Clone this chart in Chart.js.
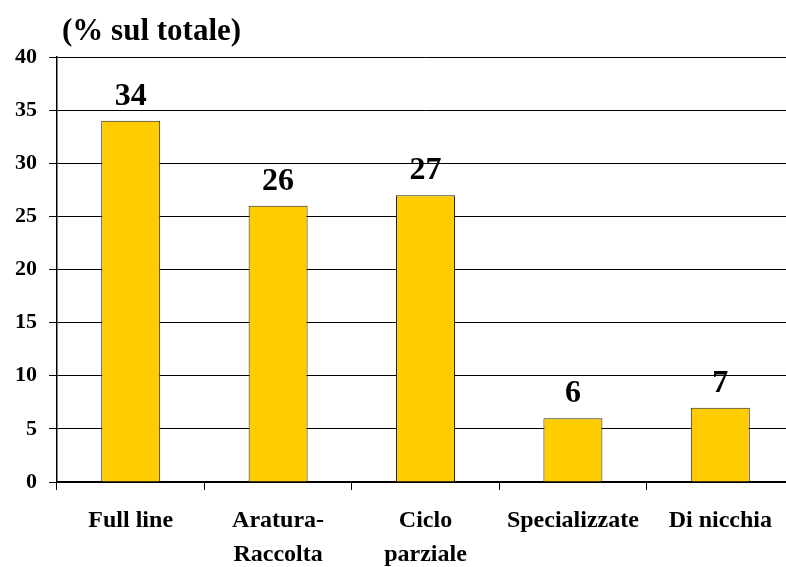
<!DOCTYPE html>
<html>
<head>
<meta charset="utf-8">
<script src="https://cdn.jsdelivr.net/npm/chart.js@4"></script>
<style>
  html, body { margin: 0; padding: 0; background: #fff; overflow: hidden; }
  #wrap { width: 794px; height: 567px; }
</style>
</head>
<body>
<div id="wrap"><canvas id="barChart"></canvas></div>
<script>
  const categories = [['Full line'], ['Aratura-', 'Raccolta'], ['Ciclo', 'parziale'], ['Specializzate'], ['Di nicchia']];
  const shares = [34, 26, 27, 6, 7];
  const yTicks = [0, 5, 10, 15, 20, 25, 30, 35, 40];

  const serif = "'Liberation Serif', 'Times New Roman', serif";

  // value above each bar + the unit caption in the corner
  const barLabels = {
    id: 'barLabels',
    afterDatasetsDraw(chart) {
      const ctx = chart.ctx;
      ctx.save();
      ctx.fillStyle = '#000';
      ctx.font = 'bold 32px ' + serif;
      ctx.textAlign = 'center';
      ctx.textBaseline = 'alphabetic';
      chart.getDatasetMeta(0).data.forEach((bar, i) => {
        ctx.fillText(shares[i], bar.x, bar.y - 16);
      });
      ctx.font = 'bold 31px ' + serif;
      ctx.textAlign = 'left';
      ctx.textBaseline = 'middle';
      ctx.fillText('(% sul totale)', 62, 32);
      ctx.restore();
    }
  };

  const ctx1 = document.getElementById('barChart');
  new Chart(ctx1, {
    type: 'bar',
    data: {
      labels: categories,
      datasets: [{
        data: shares,
        backgroundColor: '#ffcc00',
        borderColor: '#222',
        borderWidth: 1,
        categoryPercentage: 1,
        barPercentage: 0.4
      }]
    },
    options: {
      responsive: true,
      maintainAspectRatio: false,
      animation: false,
      layout: { padding: { top: 57, right: 0, left: 0, bottom: 0 } },
      plugins: { legend: { display: false }, tooltip: { enabled: false } },
      scales: {
        x: {
          afterFit: (s) => { s.height = 85; },
          grid: { drawOnChartArea: false, drawTicks: true, tickLength: 8, color: '#000', offset: true },
          border: { color: '#000', width: 1.5 },
          ticks: {
            color: '#000',
            padding: 13,
            maxRotation: 0,
            autoSkip: false,
            font: { family: serif, size: 24, weight: 'bold', lineHeight: 1.45 }
          }
        },
        y: {
          min: 0,
          max: 40,
          afterFit: (s) => { s.width = 57; },
          afterBuildTicks: (s) => { s.ticks = yTicks.map(v => ({ value: v })); },
          grid: { color: '#000', lineWidth: 1, tickLength: 8 },
          border: { color: '#000', width: 1.5 },
          ticks: {
            color: '#000',
            padding: 12,
            font: { family: serif, size: 22, weight: 'bold' }
          }
        }
      }
    },
    plugins: [barLabels]
  });
</script>
</body>
</html>
